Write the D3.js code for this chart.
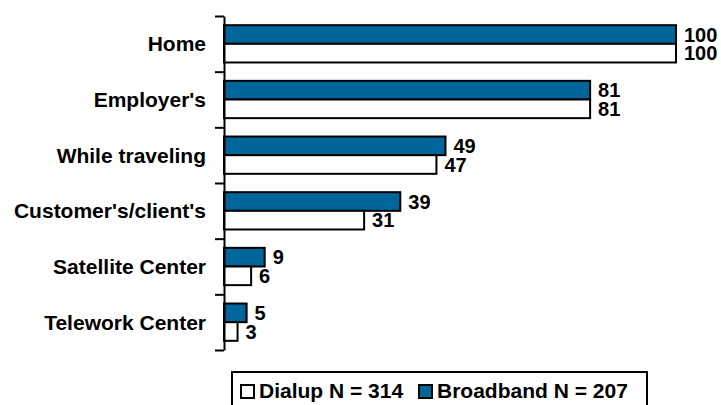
<!DOCTYPE html>
<html>
<head>
<meta charset="utf-8">
<script src="https://cdn.jsdelivr.net/npm/d3@7"></script>
<style>
  body { margin: 0; background: #fff; }
  svg { display: block; font-family: "Liberation Sans", Arial, sans-serif; font-weight: bold; }
</style>
</head>
<body>
<div id="chart-area"></div>
<script>
const categories = ["Home", "Employer's", "While traveling", "Customer's/client's", "Satellite Center", "Telework Center"];
const broadband = [100, 81, 49, 39, 9, 5];
const dialup = [100, 81, 47, 31, 6, 3];
const seriesNames = ["Broadband", "Dialup"];
const legendLabels = ["Dialup N = 314", "Broadband N = 207"];

const svgWidth = 721;
const svgHeight = 405;
const blue = "#006699";

const svg = d3.select("#chart-area")
    .append("svg")
    .attr("width", svgWidth)
    .attr("height", svgHeight);

const x = d3.scaleLinear().domain([0, 100]).range([224, 676]);

const y = d3.scaleBand()
    .domain(categories)
    .range([16, 350])
    .paddingInner(0.33)
    .paddingOuter(0.165);

const ySub = d3.scaleBand()
    .domain(seriesNames)
    .range([0, y.bandwidth()]);

const rows = categories.map((c, i) => ({
    cat: c,
    values: [
        { series: "Broadband", value: broadband[i], fill: blue },
        { series: "Dialup", value: dialup[i], fill: "#fff" }
    ]
}));

// bars
const groups = svg.append("g")
    .selectAll("g")
    .data(rows)
    .join("g")
    .attr("transform", d => `translate(0,${y(d.cat)})`);

groups.selectAll("rect")
    .data(d => d.values)
    .join("rect")
    .attr("x", x(0))
    .attr("y", d => ySub(d.series))
    .attr("width", d => x(d.value) - x(0))
    .attr("height", ySub.bandwidth())
    .attr("fill", d => d.fill)
    .attr("stroke", "#000")
    .attr("stroke-width", 2);

groups.selectAll("text")
    .data(d => d.values)
    .join("text")
    .attr("x", d => x(d.value) + 8)
    .attr("y", d => ySub(d.series) + ySub.bandwidth() / 2)
    .attr("dy", "0.36em")
    .style("font-size", "20px")
    .text(d => d.value);

// axis with ticks between categories
const yIdx = d3.scaleLinear().domain([0, categories.length]).range([16, 350]);
const axisG = svg.append("g")
    .attr("transform", `translate(${x(0)},0)`)
    .call(d3.axisLeft(yIdx)
        .tickValues(d3.range(categories.length + 1))
        .tickFormat("")
        .tickSize(9)
        .tickSizeOuter(0));
axisG.select(".domain").attr("stroke", "#000").attr("stroke-width", 2);
axisG.selectAll(".tick line").attr("stroke", "#000").attr("stroke-width", 2);

svg.append("g")
    .selectAll("text")
    .data(categories)
    .join("text")
    .attr("x", 206)
    .attr("y", d => y(d) + y.bandwidth() / 2)
    .attr("dy", "0.36em")
    .attr("text-anchor", "end")
    .style("font-size", "21px")
    .text(d => d);

// legend
const legend = svg.append("g");
legend.append("rect")
    .attr("x", 232)
    .attr("y", 372)
    .attr("width", 415)
    .attr("height", 50)
    .attr("fill", "#fff")
    .attr("stroke", "#000")
    .attr("stroke-width", 2);

const legendItems = [
    { label: legendLabels[0], fill: "#fff", x: 241 },
    { label: legendLabels[1], fill: blue, x: 419 }
];
legend.selectAll(".swatch")
    .data(legendItems)
    .join("rect")
    .attr("class", "swatch")
    .attr("x", d => d.x)
    .attr("y", 385)
    .attr("width", 13)
    .attr("height", 13)
    .attr("fill", d => d.fill)
    .attr("stroke", "#000")
    .attr("stroke-width", 2);
legend.selectAll(".ltext")
    .data(legendItems)
    .join("text")
    .attr("class", "ltext")
    .attr("x", d => d.x + 18)
    .attr("y", 398)
    .style("font-size", "21px")
    .text(d => d.label);
</script>
</body>
</html>
